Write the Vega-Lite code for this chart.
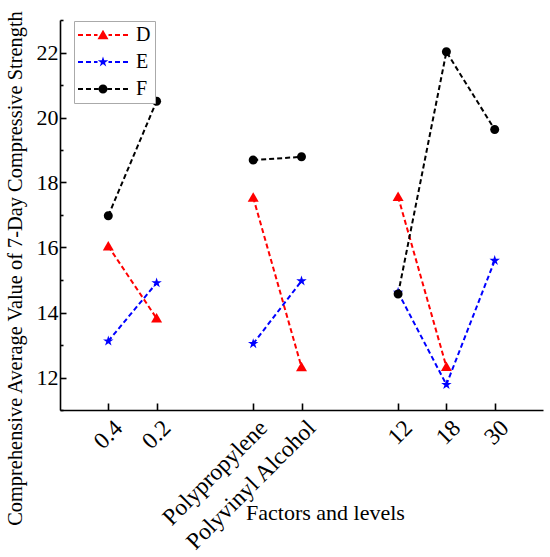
{
  "$schema": "https://vega.github.io/schema/vega-lite/v6.json",
  "width": 483,
  "height": 390,
  "autosize": "none",
  "padding": {"left": 60, "top": 20, "right": 7, "bottom": 147},
  "background": "white",
  "config": {
    "view": {"stroke": null},
    "font": "Liberation Serif",
    "axis": {
      "grid": false,
      "domainColor": "black",
      "domainWidth": 1.6,
      "tickColor": "black",
      "tickWidth": 1.6,
      "labelColor": "black",
      "titleColor": "black",
      "titleFontWeight": "normal"
    }
  },
  "data": {
    "values": [
      {"series": "D", "factor": "A", "level": "0.4", "value": 16.04},
      {"series": "D", "factor": "A", "level": "0.2", "value": 13.82},
      {"series": "D", "factor": "B", "level": "Polypropylene", "value": 17.54},
      {"series": "D", "factor": "B", "level": "Polyvinyl Alcohol", "value": 12.32},
      {"series": "D", "factor": "C", "level": "12", "value": 17.56},
      {"series": "D", "factor": "C", "level": "18", "value": 12.33},
      {"series": "E", "factor": "A", "level": "0.4", "value": 13.12},
      {"series": "E", "factor": "A", "level": "0.2", "value": 14.91},
      {"series": "E", "factor": "B", "level": "Polypropylene", "value": 13.04},
      {"series": "E", "factor": "B", "level": "Polyvinyl Alcohol", "value": 14.97},
      {"series": "E", "factor": "C", "level": "12", "value": 14.62},
      {"series": "E", "factor": "C", "level": "18", "value": 11.78},
      {"series": "E", "factor": "C", "level": "30", "value": 15.6},
      {"series": "F", "factor": "A", "level": "0.4", "value": 16.98},
      {"series": "F", "factor": "A", "level": "0.2", "value": 20.5},
      {"series": "F", "factor": "B", "level": "Polypropylene", "value": 18.69},
      {"series": "F", "factor": "B", "level": "Polyvinyl Alcohol", "value": 18.79},
      {"series": "F", "factor": "C", "level": "12", "value": 14.57},
      {"series": "F", "factor": "C", "level": "18", "value": 22.02},
      {"series": "F", "factor": "C", "level": "30", "value": 19.63}
    ]
  },
  "encoding": {
    "x": {
      "field": "level",
      "type": "ordinal",
      "scale": {
        "type": "point",
        "domain": ["0.4", "0.2", " ", "Polypropylene", "Polyvinyl Alcohol", "  ", "12", "18", "30"],
        "padding": 1
      },
      "axis": {
        "values": ["0.4", "0.2", "Polypropylene", "Polyvinyl Alcohol", "12", "18", "30"],
        "labelFont": "Liberation Serif",
        "titleFont": "Liberation Serif",
        "labelAngle": -45,
        "labelAlign": "right",
        "labelBaseline": "middle",
        "labelFontSize": 23.5,
        "labelPadding": 21,
        "labelOffset": 10,
        "tickSize": -7,
        "title": "Factors and levels",
        "titleFontSize": 22,
        "titleX": 265,
        "titleY": 109,
        "titleBaseline": "alphabetic"
      }
    },
    "y": {
      "field": "value",
      "type": "quantitative",
      "scale": {"domain": [11, 23], "nice": false, "zero": false},
      "axis": {
        "values": [11, 12, 13, 14, 15, 16, 17, 18, 19, 20, 21, 22, 23],
        "labelExpr": "datum.value % 2 == 0 ? datum.label : ''",
        "labelFont": "Liberation Serif",
        "titleFont": "Liberation Serif",
        "labelFontSize": 22,
        "labelPadding": 8,
        "tickSize": {"condition": {"test": "datum.value % 2 == 0", "value": -6}, "value": -3},
        "title": "Comprehensive Average Value of 7-Day Compressive Strength",
        "titleFontSize": 20.4,
        "titleX": -39,
        "titleY": 248,
        "titleBaseline": "alphabetic"
      }
    }
  },
  "layer": [
    {
      "mark": {"type": "line", "strokeDash": [5, 3], "strokeWidth": 2},
      "encoding": {
        "detail": {"field": "factor"},
        "color": {
          "field": "series",
          "scale": {"domain": ["D", "E", "F"], "range": ["#ff0000", "#0000ff", "#000000"]},
          "legend": null
        }
      }
    },
    {
      "mark": {"type": "point", "filled": true, "size": 100, "opacity": 1},
      "encoding": {
        "color": {
          "field": "series",
          "scale": {"domain": ["D", "E", "F"], "range": ["#ff0000", "#0000ff", "#000000"]},
          "legend": null
        },
        "shape": {
          "field": "series",
          "scale": {
            "domain": ["D", "E", "F"],
            "range": [
              "M0,-1.05L1.1,0.85L-1.1,0.85Z",
              "M0,-1.1L0.247,-0.34L1.046,-0.34L0.399,0.13L0.647,0.89L0,0.42L-0.647,0.89L-0.399,0.13L-1.046,-0.34L-0.247,-0.34Z",
              "M-0.9,0A0.9,0.9 0 1,1 0.9,0A0.9,0.9 0 1,1 -0.9,0Z"
            ]
          },
          "legend": null
        }
      }
    },
    {
      "transform": [{"filter": "false"}],
      "mark": {"type": "point", "filled": true, "size": 400, "opacity": 1},
      "encoding": {
        "fill": {
          "field": "series",
          "scale": {"domain": ["D", "E", "F"], "range": ["#ff0000", "#0000ff", "#000000"]},
          "legend": {
            "title": null,
            "orient": "none",
            "legendX": 14,
            "legendY": 1,
            "strokeColor": "#aaaaaa",
            "fillColor": "white",
            "padding": 4,
            "labelFont": "Liberation Serif",
            "labelFontSize": 20,
            "labelColor": "black",
            "symbolSize": 400,
            "symbolStrokeWidth": 0,
            "symbolFillColor": {"expr": "datum.value === 'D' ? '#ff0000' : datum.value === 'E' ? '#0000ff' : '#000000'"},
            "symbolOpacity": 1,
            "symbolOffset": 15,
            "labelOffset": 23,
            "rowPadding": 7
          }
        },
        "shape": {
          "field": "series",
          "scale": {
            "domain": ["D", "E", "F"],
            "range": [
              "M-2.5,-0.1H-2V0.1H-2.5Z M-1.7,-0.1H-1.2V0.1H-1.7Z M-0.9,-0.1H-0.55V0.1H-0.9Z M0.55,-0.1H0.9V0.1H0.55Z M1.2,-0.1H1.7V0.1H1.2Z M2,-0.1H2.5V0.1H2Z M0,-0.525L0.55,0.425L-0.55,0.425Z",
              "M-2.5,-0.1H-2V0.1H-2.5Z M-1.7,-0.1H-1.2V0.1H-1.7Z M-0.9,-0.1H-0.55V0.1H-0.9Z M0.55,-0.1H0.9V0.1H0.55Z M1.2,-0.1H1.7V0.1H1.2Z M2,-0.1H2.5V0.1H2Z M0,-0.55L0.124,-0.17L0.523,-0.17L0.2,0.065L0.324,0.445L0,0.21L-0.324,0.445L-0.2,0.065L-0.523,-0.17L-0.124,-0.17Z",
              "M-2.5,-0.1H-2V0.1H-2.5Z M-1.7,-0.1H-1.2V0.1H-1.7Z M-0.9,-0.1H-0.45V0.1H-0.9Z M0.45,-0.1H0.9V0.1H0.45Z M1.2,-0.1H1.7V0.1H1.2Z M2,-0.1H2.5V0.1H2Z M-0.45,0A0.45,0.45 0 1,1 0.45,0A0.45,0.45 0 1,1 -0.45,0Z"
            ]
          },
          "legend": {
            "title": null,
            "orient": "none",
            "legendX": 14,
            "legendY": 1,
            "strokeColor": "#aaaaaa",
            "fillColor": "white",
            "padding": 4,
            "labelFont": "Liberation Serif",
            "labelFontSize": 20,
            "labelColor": "black",
            "symbolSize": 400,
            "symbolStrokeWidth": 0,
            "symbolFillColor": {"expr": "datum.value === 'D' ? '#ff0000' : datum.value === 'E' ? '#0000ff' : '#000000'"},
            "symbolOpacity": 1,
            "symbolOffset": 15,
            "labelOffset": 23,
            "rowPadding": 7
          }
        }
      }
    }
  ],
  "resolve": {"scale": {"shape": "independent"}}
}
